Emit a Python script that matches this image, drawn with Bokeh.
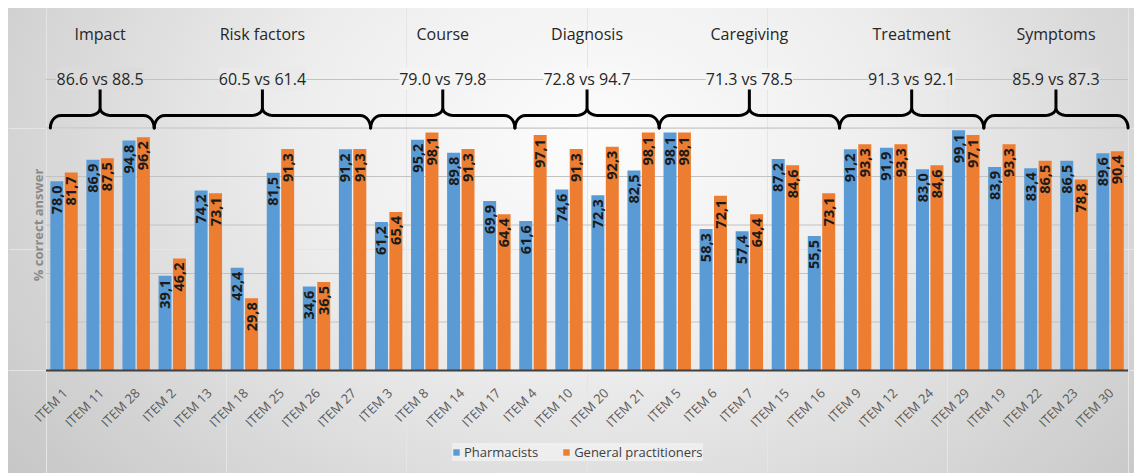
import numpy as np
from math import pi
from bokeh.plotting import figure
from bokeh.models import Range1d, Legend, LegendItem
from bokeh.core.properties import value
from bokeh.embed import file_html
from bokeh.resources import INLINE

items = ["ITEM 1", "ITEM 11", "ITEM 28", "ITEM 2", "ITEM 13", "ITEM 18", "ITEM 25",
         "ITEM 26", "ITEM 27", "ITEM 3", "ITEM 8", "ITEM 14", "ITEM 17", "ITEM 4",
         "ITEM 10", "ITEM 20", "ITEM 21", "ITEM 5", "ITEM 6", "ITEM 7", "ITEM 15",
         "ITEM 16", "ITEM 9", "ITEM 12", "ITEM 24", "ITEM 29", "ITEM 19", "ITEM 22",
         "ITEM 23", "ITEM 30"]
pharmacists = [78.0, 86.9, 94.8, 39.1, 74.2, 42.4, 81.5, 34.6, 91.2, 61.2, 95.2, 89.8,
               69.9, 61.6, 74.6, 72.3, 82.5, 98.1, 58.3, 57.4, 87.2, 55.5, 91.2, 91.9,
               83.0, 99.1, 83.9, 83.4, 86.5, 89.6]
gps = [81.7, 87.5, 96.2, 46.2, 73.1, 29.8, 91.3, 36.5, 91.3, 65.4, 98.1, 91.3,
       64.4, 97.1, 91.3, 92.3, 98.1, 98.1, 72.1, 64.4, 84.6, 73.1, 93.3, 93.3,
       84.6, 97.1, 93.3, 86.5, 78.8, 90.4]
groups = ["Impact", "Risk factors", "Course", "Diagnosis", "Caregiving", "Treatment", "Symptoms"]
group_sizes = [3, 6, 4, 4, 5, 4, 4]
group_stats = ["86.6 vs 88.5", "60.5 vs 61.4", "79.0 vs 79.8", "72.8 vs 94.7",
               "71.3 vs 78.5", "91.3 vs 92.1", "85.9 vs 87.3"]
series_names = ["Pharmacists", "General practitioners"]
y_title = "% correct answer"
grid_ticks = [20, 40, 60, 80, 100, 120]

BLUE = "#5B9BD5"
ORANGE = "#ED7D31"
FONT = "Open Sans"

# layout geometry (pixels)
W, H = 1126, 465
LEFT_PX = 37.5          # left of the bar area
BASE_PX = 362.0         # y pixel of the value-0 baseline
PX_PER_CAT = 36.07
PX_PER_UNIT = 2.425
n = len(items)

x_lo = -LEFT_PX / PX_PER_CAT
x_hi = (W - LEFT_PX) / PX_PER_CAT
y_hi = BASE_PX / PX_PER_UNIT
y_lo = -(H - BASE_PX) / PX_PER_UNIT

# background gradient (radial), also used to mask gridline behind the stats texts
G_CX, G_CY, G_RX, G_RY = 0.52, 0.28, 0.72, 1.30
G_STOPS = [(0.0, 252), (0.36, 238), (0.70, 213), (1.0, 192)]

def grad_color(px, py):
    r = np.hypot((px - G_CX * W) / (G_RX * W), (py - G_CY * H) / (G_RY * H))
    r = min(r, 1.0)
    for (a, ca), (b, cb) in zip(G_STOPS[:-1], G_STOPS[1:]):
        if r <= b:
            c = ca + (cb - ca) * (r - a) / (b - a)
            break
    c = int(round(c))
    return "#%02x%02x%02x" % (c, c, c)

stops_css = ", ".join("#%02x%02x%02x %d%%" % (c, c, c, int(s * 100)) for s, c in G_STOPS)
p = figure(width=W, height=H, output_backend="svg", toolbar_location=None,
           x_range=Range1d(x_lo, x_hi), y_range=Range1d(y_lo, y_hi),
           x_axis_location=None, y_axis_location=None,
           min_border_left=0, min_border_right=0, min_border_top=0, min_border_bottom=0,
           border_fill_color=None, background_fill_color=None, outline_line_color=None)
p.styles = {"margin-left": "8px", "margin-top": "8px",
            "background": "radial-gradient(ellipse %d%% %d%% at %d%% %d%%, %s)" % (
                G_RX * 100, G_RY * 100, G_CX * 100, G_CY * 100, stops_css)}

xc = np.arange(n) + 0.5
xb = xc - 0.2
xo = xc + 0.2

# gridlines
p.segment(x0=[0] * len(grid_ticks), x1=[n] * len(grid_ticks), y0=grid_ticks, y1=grid_ticks,
          line_color="#c2c2c2", line_width=1)

rb = p.vbar(x=xb, top=pharmacists, width=0.36, fill_color=BLUE, line_color=None)
ro = p.vbar(x=xo, top=gps, width=0.36, fill_color=ORANGE, line_color=None)

# baseline (category axis line)
p.segment(x0=[0], x1=[n], y0=[0], y1=[0], line_color="#404040", line_width=2)

def fmt(v):
    return f"{v:.1f}".replace(".", ",")

for xs_, vals in ((xb, pharmacists), (xo, gps)):
    p.text(x=xs_, y=vals, text=[fmt(v) for v in vals], angle=pi / 2,
           text_align="right", text_baseline="middle", y_offset=4,
           text_font=value(FONT), text_font_style="bold", text_font_size="14.5px",
           text_color="#1a1a1a")

# category labels (x axis)
p.text(x=xc, y=[0] * n, text=items, angle=pi / 4, text_align="right",
       text_baseline="middle", x_offset=1, y_offset=20,
       text_font=value(FONT), text_font_size="13px", text_color="#595959")

# y axis title
p.text(x=[0], y=[60], text=[y_title], angle=pi / 2, text_align="center",
       text_baseline="middle", x_offset=-8.5,
       text_font=value(FONT), text_font_size="13px", text_font_style="bold",
       text_color="#8a8a8a")

# group braces and titles
starts = np.concatenate([[0], np.cumsum(group_sizes)[:-1]])
ends = np.cumsum(group_sizes)
centers = (starts + ends) / 2.0

def brace(x0, x1, xm, h=105.2, lo=100.0, tip=118.0, r=0.3, k=3.0, m=8):
    xs, ys = [], []
    a = np.linspace(pi, pi / 2, m)
    xs += list(x0 + r + r * np.cos(a)); ys += list(lo + (h - lo) * np.sin(a))
    a = np.linspace(-pi / 2, 0, m)
    xs += list(xm - r + r * np.cos(a)); ys += list(h + k + k * np.sin(a))
    xs += [xm, xm]; ys += [tip, h + k]
    a = np.linspace(pi, 3 * pi / 2, m)
    xs += list(xm + r + r * np.cos(a)); ys += list(h + k + k * np.sin(a))
    a = np.linspace(pi / 2, 0, m)
    xs += list(x1 - r + r * np.cos(a)); ys += list(lo + (h - lo) * np.sin(a))
    return xs, ys

bx, by = [], []
for s, e, c in zip(starts, ends, centers):
    x0 = max(s, 0.12)
    xs_, ys_ = brace(x0, e, c)
    bx.append(xs_); by.append(ys_)
p.multi_line(xs=bx, ys=by, line_color="black", line_width=3, line_join="round", line_cap="round")

TITLE_Y, STATS_Y = 138.8, 120.4
p.text(x=centers, y=[TITLE_Y] * len(groups), text=groups, text_align="center",
       text_baseline="middle", text_font=value(FONT), text_font_size="16px",
       text_color="#262626")
stat_bg = [grad_color(LEFT_PX + c * PX_PER_CAT, BASE_PX - STATS_Y * PX_PER_UNIT) for c in centers]
p.text(x=centers, y=[STATS_Y] * len(groups), text=group_stats, text_align="center",
       text_baseline="middle", text_font=value(FONT), text_font_size="16px",
       text_color="#262626", background_fill_color=stat_bg, padding=0)

legend = Legend(items=[LegendItem(label=series_names[0], renderers=[rb]),
                       LegendItem(label=series_names[1], renderers=[ro])],
                orientation="horizontal", location=(444, 12),
                background_fill_color="#f6f6f6", background_fill_alpha=0.6,
                border_line_color=None, glyph_width=8, glyph_height=8,
                label_text_font=FONT, label_text_font_size="13px",
                label_text_color="#404040", label_height=16,
                spacing=24, padding=7, margin=0, label_standoff=4)
p.add_layout(legend)

open("out.html", "w").write(file_html(p, INLINE))
